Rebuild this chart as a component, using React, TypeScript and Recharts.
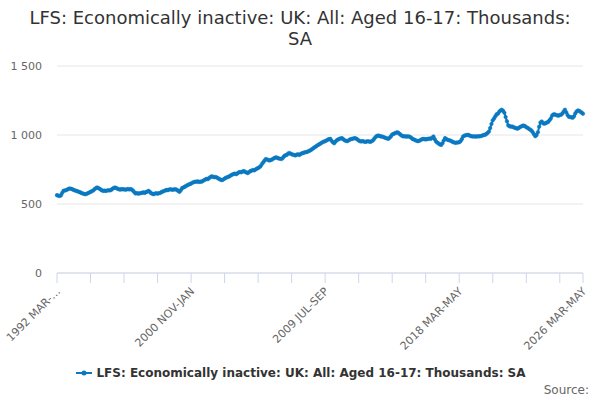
import React from "react";
import { LineChart, Line, XAxis, YAxis, CartesianGrid } from "recharts";

const startYear = 1992;
const periods = ["MAR-MAY", "APR-JUN", "MAY-JUL", "JUN-AUG", "JUL-SEP", "AUG-OCT", "SEP-NOV", "OCT-DEC", "NOV-JAN", "DEC-FEB", "JAN-MAR", "FEB-APR"];
const startMonthOffset = 2; // March

const values: number[] = [
  564, 560, 558, 562, 580, 595, 598, 600, 605, 610, 612, 610,
  606, 602, 598, 595, 592, 588, 584, 580, 576, 573, 571, 574,
  578, 583, 588, 592, 598, 606, 614, 620, 616, 610, 604, 598,
  595, 597, 594, 598, 600, 598, 602, 610, 616, 620, 615, 610,
  607, 604, 608, 606, 607, 603, 606, 609, 605, 608, 605, 596,
  585, 576, 580, 574, 578, 578, 582, 584, 580, 586, 590, 595,
  588, 578, 574, 571, 576, 578, 575, 578, 580, 586, 590, 594,
  598, 602, 600, 605, 607, 604, 603, 606, 607, 602, 595, 588,
  600, 615, 620, 624, 630, 636, 640, 644, 648, 654, 658, 661,
  661, 664, 659, 662, 661, 666, 672, 678, 682, 680, 688, 695,
  700, 698, 694, 696, 692, 686, 680, 676, 673, 678, 684, 690,
  694, 697, 702, 708, 714, 717, 720, 716, 722, 729, 732, 730,
  736, 739, 732, 728, 724, 732, 738, 742, 746, 744, 750, 756,
  761, 766, 775, 790, 802, 815, 826, 822, 818, 815, 819, 824,
  830, 835, 838, 834, 830, 828, 826, 832, 845, 852, 855, 862,
  870, 866, 860, 858, 855, 852, 858, 860, 855, 862, 867, 870,
  874, 875, 878, 882, 886, 892, 899, 905, 912, 918, 925, 930,
  936, 942, 948, 952, 955, 960, 966, 970, 972, 958, 948, 940,
  952, 962, 967, 972, 975, 977, 970, 962, 958, 955, 960, 966,
  970, 972, 975, 977, 974, 968, 960, 955, 953, 956, 953, 950,
  952, 955, 953, 950, 955, 960, 972, 984, 992, 996, 994, 990,
  989, 986, 982, 978, 975, 972, 980, 990, 1004, 1008, 1012, 1016,
  1020, 1014, 1006, 998, 992, 990, 991, 988, 990, 989, 985, 978,
  970, 967, 962, 958, 955, 958, 964, 968, 972, 970, 968, 970,
  972, 975, 972, 980, 989, 970, 953, 945, 938, 932, 928, 940,
  960, 977, 970, 965, 962, 960, 955, 950, 946, 943, 945, 946,
  948, 955, 970, 989, 995, 998, 1000, 1001, 996, 992, 990, 989,
  990, 988, 991, 990, 991, 993, 996, 1000, 1001, 1008, 1015, 1025,
  1050, 1080, 1106, 1120, 1135, 1150, 1154, 1168, 1178, 1183, 1175, 1161,
  1130, 1100, 1070, 1064, 1060, 1062, 1057, 1052, 1050, 1045, 1050, 1056,
  1062, 1066, 1069, 1064, 1056, 1052, 1045, 1038, 1033, 1020, 1005, 991,
  1000, 1020, 1060, 1090, 1098, 1085, 1081, 1086, 1090, 1095, 1106, 1120,
  1140, 1149, 1150, 1145, 1142, 1140, 1145, 1147, 1155, 1170, 1183, 1165,
  1145, 1132, 1130, 1128, 1125, 1135, 1155, 1170, 1178, 1175, 1168, 1162,
  1154,
];

const yTicks = [0, 500, 1000, 1500];
const xTickIdx = [0, 26, 52, 78, 104, 130, 156, 182, 208, 234, 260, 286, 312, 338, 364, 390, 408];
const labeledIdx = [0, 104, 208, 312, 408];

const periodLabel = (i: number) => {
  const m = startMonthOffset + i;
  const year = startYear + Math.floor(m / 12);
  return `${year} ${periods[i % 12]}`;
};

const data = values.map((v, i) => ({ idx: i, period: periodLabel(i), value: v }));

const COLOR = "#0b79c0";
const FONT = "'DejaVu Sans', sans-serif";

const XTick = (props: any) => {
  const { x, y, payload } = props;
  const i = payload.value as number;
  if (!labeledIdx.includes(i)) return null;
  let label = periodLabel(i);
  if (i === 0) label = "1992 MAR-…";
  return (
    <g transform={`translate(${x + 4},${y + 7})`}>
      <text x={0} y={0} textAnchor="end" transform="rotate(-45)" fill="#666" fontSize={11} fontFamily={FONT}>
        {label}
      </text>
    </g>
  );
};

const fmtY = (v: number) => (v >= 1000 ? `${Math.floor(v / 1000)} ${String(v % 1000).padStart(3, "0")}` : String(v));

export default function App() {
  return (
    <div style={{ position: "fixed", left: 0, top: 0, width: 600, height: 400, background: "#fff", fontFamily: FONT }}>
      <div style={{ position: "absolute", left: 0, top: 7, width: 600, textAlign: "center", fontSize: 18, lineHeight: "21px", color: "#333" }}>
        <div>LFS: Economically inactive: UK: All: Aged 16-17: Thousands:</div>
        <div>SA</div>
      </div>
      <LineChart width={600} height={400} data={data} margin={{ top: 66, right: 17, bottom: 27, left: 0 }}>
        <CartesianGrid horizontal={true} vertical={false} stroke="#e6e6e6" />
        <XAxis
          dataKey="idx"
          type="number"
          domain={[0, 408]}
          ticks={xTickIdx}
          interval={0}
          height={100}
          stroke="#ccd6eb"
          tickLine={{ stroke: "#ccd6eb" }}
          tickSize={10}
          tick={<XTick />}
        />
        <YAxis
          domain={[0, 1500]}
          ticks={yTicks}
          width={57}
          axisLine={false}
          tickLine={false}
          tickSize={0}
          tickMargin={15}
          tickFormatter={fmtY}
          tick={{ fill: "#666", fontSize: 11, fontFamily: FONT }}
        />
        <Line
          dataKey="value"
          stroke={COLOR}
          strokeWidth={2}
          dot={{ r: 1.8, fill: COLOR, stroke: COLOR, strokeWidth: 0.5 }}
          isAnimationActive={false}
        />
      </LineChart>
      <div style={{ position: "absolute", left: 0, top: 366, width: 600, display: "flex", justifyContent: "center", alignItems: "center", fontSize: 12, fontWeight: "bold", color: "#333" }}>
        <svg width={20} height={12} style={{ marginRight: 2 }}>
          <line x1={2} y1={6} x2={18} y2={6} stroke={COLOR} strokeWidth={2} />
          <circle cx={10} cy={6} r={2.5} fill={COLOR} />
        </svg>
        <span>LFS: Economically inactive: UK: All: Aged 16-17: Thousands: SA</span>
      </div>
      <div style={{ position: "absolute", right: 11, top: 383, fontSize: 12, color: "#666" }}>Source:</div>
    </div>
  );
}
